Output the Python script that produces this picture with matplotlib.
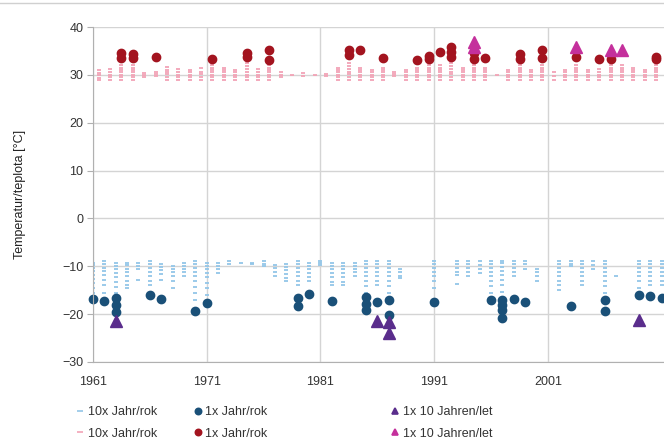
import matplotlib.pyplot as plt
from matplotlib.lines import Line2D

plt.rcParams['font.family'] = ['Liberation Sans', 'DejaVu Sans']

years = list(range(1961, 2012))

# 10x per year, cold (winter, plotted at start of year)
cold_10x = [
    [-9.3, -9.8, -10.4, -11.0, -11.8, -12.6, -13.5, -14.5, -15.6],  # 1961
    [-9.0, -9.6, -10.3, -11.0, -11.9, -12.8, -13.9, -15.5],
    [-9.3, -9.9, -10.6, -11.4, -12.3, -13.2, -14.3, -15.5, -17.0],
    [-9.3, -9.8, -10.5, -11.2, -12.1, -13.0, -14.0, -14.6],
    [-9.3, -9.9, -10.5, -12.8],
    [-9.0, -9.6, -10.3, -11.1, -12.0, -13.0, -14.0],
    [-9.5, -10.1, -10.8, -11.6, -12.8],
    [-10.0, -10.6, -11.3, -12.1, -13.0, -14.6],
    [-9.3, -9.9, -10.6, -11.3, -12.0],
    [-9.0, -9.6, -10.3, -11.1, -12.0, -13.1, -14.3, -15.6, -17.0],
    [-9.3, -9.9, -10.6, -11.4, -12.3, -13.4, -14.6, -16.0],  # 1971
    [-9.3, -9.9, -10.6, -11.5],
    [-9.0, -9.5],
    [-9.3],
    [-9.3, -9.6],
    [-9.0, -9.5, -10.0],
    [-9.7, -10.4, -11.2, -12.0],
    [-9.5, -10.1, -10.8, -11.7, -12.4, -13.0],
    [-9.0, -9.6, -10.3, -11.1, -12.0, -13.0, -14.0],
    [-9.3, -9.9, -10.6, -11.4, -12.2, -13.0],
    [-9.0, -9.4, -9.7],  # 1981
    [-9.3, -9.9, -10.6, -11.4, -12.3, -13.2, -14.0],
    [-9.3, -9.9, -10.6, -11.4, -12.3, -13.2, -14.0],
    [-9.3, -9.9, -10.5, -11.2, -12.0],
    [-9.0, -9.6, -10.3, -11.1, -12.0, -13.0, -14.2, -15.5],
    [-9.0, -9.6, -10.3, -11.1, -12.0, -13.0, -14.0],
    [-9.0, -9.6, -10.3, -11.1, -12.0, -13.0, -14.2, -15.5],
    [-10.5, -11.2, -12.0, -12.5],
    [],
    [],
    [-9.0, -9.6, -10.3, -11.1, -12.0, -13.0, -14.5],  # 1991
    [],
    [-9.0, -9.6, -10.3, -11.1, -11.8, -13.8],
    [-9.0, -9.6, -10.3, -11.1, -12.0],
    [-9.0, -9.7, -10.5, -11.5],
    [-9.0, -9.6, -10.3, -11.1, -12.0, -13.0, -14.2, -15.5],
    [-8.8, -9.4, -10.1, -10.9, -11.8, -12.8, -14.0, -15.3, -16.6],
    [-9.0, -9.6, -10.3, -11.1, -12.0],
    [-9.0, -9.6, -10.5],
    [-10.5, -11.2, -12.0, -13.0],
    [],  # 2001
    [-9.0, -9.6, -10.3, -11.1, -12.0, -13.0, -14.0, -15.0],
    [-9.0, -9.5, -10.0],
    [-9.0, -9.6, -10.3, -11.1, -12.0, -13.0, -14.0],
    [-9.0, -9.7, -10.5],
    [-9.0, -9.6, -10.3, -11.1, -12.0, -13.0, -14.2, -15.5],
    [-12.0],
    [],
    [-9.0, -9.6, -10.3, -11.1, -12.0, -13.0, -14.5],
    [-9.0, -9.6, -10.3, -11.1, -12.0, -13.0, -14.0],
    [-9.0, -9.6, -10.3, -11.1, -12.0, -13.0, -14.0],  # 2011
]

# 10x per year, hot (summer, plotted mid-year)
hot_10x = [
    [29.0, 29.4, 29.9, 30.4, 31.0],  # 1961
    [29.0, 29.5, 30.0, 30.6, 31.3],
    [29.0, 29.5, 30.0, 30.5, 31.0, 31.5, 32.0],
    [29.0, 29.5, 30.0, 30.5, 31.0, 31.5, 32.0],
    [29.6, 30.0, 30.4],
    [29.8, 30.1, 30.5],
    [29.0, 29.5, 30.1, 30.6, 31.1, 31.7],
    [29.0, 29.5, 30.0, 30.6, 31.3],
    [29.0, 29.5, 30.0, 30.5, 31.0],
    [29.0, 29.5, 30.1, 30.7, 31.4],
    [29.0, 29.5, 30.0, 30.5, 31.0, 31.5, 32.0],  # 1971
    [29.0, 29.5, 30.0, 30.5, 31.0, 31.5],
    [29.0, 29.5, 30.0, 30.5, 31.0],
    [29.0, 29.5, 30.0, 30.6, 31.2, 31.8, 32.5],
    [29.0, 29.5, 30.0, 30.6, 31.2],
    [29.0, 29.5, 30.0, 30.5, 31.0, 31.5, 32.0],
    [29.5, 30.0, 30.5],
    [30.0],
    [29.7, 30.3],
    [30.0],
    [29.8, 30.2],  # 1981
    [29.0, 29.5, 30.0, 30.5, 31.0, 31.5],
    [29.0, 29.5, 30.1, 30.7, 31.3, 31.9, 32.5],
    [29.0, 29.5, 30.0, 30.5, 31.0, 31.5],
    [29.0, 29.5, 30.0, 30.5, 31.0],
    [29.0, 29.5, 30.0, 30.5, 31.0, 31.5],
    [29.8, 30.2, 30.5],
    [29.0, 29.5, 30.0, 30.5, 31.0],
    [29.0, 29.5, 30.0, 30.5, 31.0, 31.5],
    [29.0, 29.5, 30.0, 30.5, 31.0, 31.5, 32.0],
    [29.0, 29.5, 30.0, 30.5, 31.0, 31.5, 32.0],  # 1991
    [29.0, 29.5, 30.1, 30.7, 31.3, 31.9, 32.5],
    [29.0, 29.5, 30.0, 30.5, 31.0, 31.5],
    [29.0, 29.5, 30.0, 30.5, 31.0, 31.5, 32.0],
    [29.0, 29.5, 30.0, 30.5, 31.0, 31.5],
    [30.0],
    [29.0, 29.5, 30.0, 30.5, 31.0],
    [29.0, 29.5, 30.0, 30.5, 31.0, 31.5, 32.0],
    [29.0, 29.5, 30.0, 30.5, 31.0],
    [29.0, 29.5, 30.0, 30.5, 31.0, 31.5, 32.0],
    [29.0, 29.7, 30.5],  # 2001
    [29.0, 29.5, 30.0, 30.5, 31.0],
    [29.0, 29.5, 30.0, 30.5, 31.0, 31.5, 32.0],
    [29.0, 29.5, 30.0, 30.5, 31.0],
    [29.0, 29.5, 30.0, 30.6, 31.3],
    [29.0, 29.5, 30.0, 30.5, 31.0, 31.5, 32.0],
    [29.0, 29.5, 30.0, 30.5, 31.0, 31.5, 32.0],
    [29.0, 29.5, 30.0, 30.5, 31.0, 31.5],
    [29.0, 29.5, 30.0, 30.5, 31.0],
    [29.0, 29.5, 30.0, 30.5, 31.0, 31.5, 32.0],
    [29.0, 29.5, 30.0, 30.5, 31.0],  # 2011
]

# 1x per year
cold_1x_year = [1961, 1962, 1963, 1963, 1963, 1966, 1967, 1970, 1971, 1979, 1979,
                1980, 1982, 1985, 1985, 1985, 1986, 1987, 1987, 1991, 1996,
                1997, 1997, 1997, 1997, 1998, 1999, 2003, 2006, 2006, 2009, 2010, 2011]
cold_1x_temp = [-16.9, -17.2, -16.7, -18.1, -19.6, -16.0, -16.9, -19.3, -17.6, -16.6, -18.4,
                -15.8, -17.2, -16.4, -17.8, -19.2, -17.4, -17.0, -20.2, -17.4, -17.0,
                -17.0, -18.1, -19.1, -20.8, -16.9, -17.4, -18.4, -17.0, -19.3, -16.0, -16.3, -16.7]

hot_1x_year = [1963, 1963, 1964, 1964, 1966, 1971, 1974, 1974, 1976, 1976, 1983, 1983,
               1984, 1986, 1989, 1990, 1990, 1991, 1992, 1992, 1992, 1994, 1994, 1995,
               1998, 1998, 2000, 2000, 2003, 2005, 2006, 2010, 2010]
hot_1x_temp = [34.5, 33.5, 34.3, 33.6, 33.7, 33.3, 34.5, 33.7, 35.2, 33.1, 35.2, 34.2,
               35.2, 33.5, 33.1, 34.0, 33.3, 34.8, 35.9, 34.8, 33.7, 34.5, 33.3, 33.5,
               34.3, 33.4, 35.2, 33.5, 33.8, 33.3, 33.3, 33.8, 33.3]

# 1x in 10 years
cold_10y_year = [1963, 1986, 1987, 1987, 2009]
cold_10y_temp = [-21.4, -21.5, -21.6, -23.9, -21.2]
hot_10y_year = [1994, 1994, 2003, 2006, 2007]
hot_10y_temp = [36.9, 35.8, 35.9, 35.2, 35.2]

c_cold10 = '#93c6e8'
c_hot10 = '#f2a3b6'
c_cold1 = '#1a5078'
c_hot1 = '#a3141f'
c_cold_tri = '#5a2d8c'
c_hot_tri = '#c4309c'

fig = plt.figure(figsize=(6.64, 4.43), dpi=100)
ax = fig.add_axes([0.140, 0.183, 0.860, 0.756])

cx = [y for y, v in zip(years, cold_10x) for _ in v]
cy = [t for v in cold_10x for t in v]
hx = [y + 0.5 for y, v in zip(years, hot_10x) for _ in v]
hy = [t for v in hot_10x for t in v]

ax.plot(cx, cy, ls='none', marker='_', ms=3.5, mew=1.3, color=c_cold10)
ax.plot(hx, hy, ls='none', marker='_', ms=3.5, mew=1.3, color=c_hot10)
ax.plot(cold_1x_year, cold_1x_temp, ls='none', marker='o', ms=6, color=c_cold1, clip_on=False)
ax.plot([y + 0.5 for y in hot_1x_year], hot_1x_temp, ls='none', marker='o', ms=6, color=c_hot1)
ax.plot(cold_10y_year, cold_10y_temp, ls='none', marker='^', ms=9, color=c_cold_tri)
ax.plot([y + 0.5 for y in hot_10y_year], hot_10y_temp, ls='none', marker='^', ms=9, color=c_hot_tri)

ax.set_xlim(1961, 2011.2)
ax.set_ylim(-30, 40)
ax.set_xticks([1961, 1971, 1981, 1991, 2001])
ax.set_yticks(range(-30, 41, 10))
ax.grid(True, color='#d4d4d4', lw=1)
ax.set_axisbelow(True)
for s in ['top', 'right']:
    ax.spines[s].set_visible(False)
for s in ['left', 'bottom']:
    ax.spines[s].set_color('#b0b0b0')
ax.tick_params(axis='y', length=4, color='#b0b0b0', labelsize=9, labelcolor='#333333', pad=3)
ax.tick_params(axis='x', length=0, labelsize=9, labelcolor='#333333', pad=10)

fig.text(0.03, 0.56, 'Temperatur/teplota [°C]', rotation=90, ha='center', va='center',
         fontsize=9, color='#222222')

# top border line
fig.add_artist(Line2D([0, 1], [0.993, 0.993], color='#d0d0d0', lw=1))

labels_col = [('10x Jahr/rok', '_', c_cold10, c_hot10, 4, 0.106),
              ('1x Jahr/rok', 'o', c_cold1, c_hot1, 4.5, 0.283),
              ('1x 10 Jahren/let', '^', c_cold_tri, c_hot_tri, 5, 0.58)]
for text, mk, c1, c2, ms, xpos in labels_col:
    h1 = Line2D([], [], ls='none', marker=mk, ms=ms, mew=1.2, color=c1)
    h2 = Line2D([], [], ls='none', marker=mk, ms=ms, mew=1.2, color=c2)
    fig.legend([h1, h2], [text, text], loc='upper left', bbox_to_anchor=(xpos, 0.097),
               frameon=False, fontsize=9, labelcolor='#333333', handlelength=0.6,
               handletextpad=0.3, labelspacing=0.75, borderpad=0)

fig.savefig('out.png', dpi=100)
